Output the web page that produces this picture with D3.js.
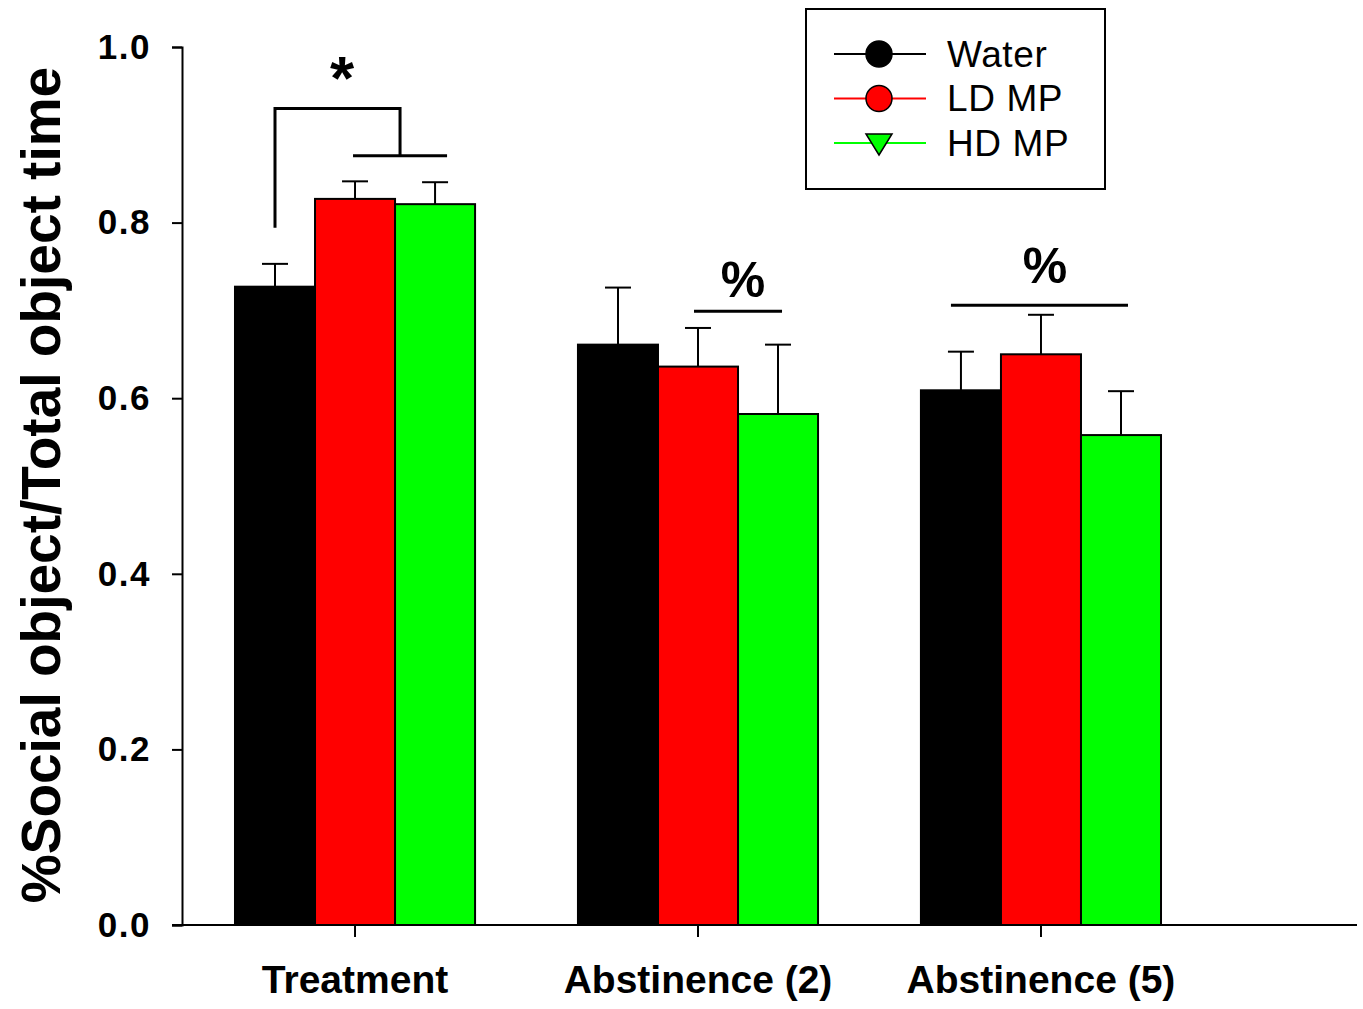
<!DOCTYPE html>
<html>
<head>
<meta charset="utf-8">
<script src="https://cdn.jsdelivr.net/npm/d3@7"></script>
<style>
  html, body { margin: 0; padding: 0; background: #fff; }
  svg { display: block; font-family: "Liberation Sans", Arial, sans-serif; }
</style>
</head>
<body>
<svg id="chart" width="1363" height="1009"></svg>
<script>
// Phases of the experiment (x groups)
const categories = ["Treatment", "Abstinence (2)", "Abstinence (5)"];
// Drinking-water groups
const seriesNames = ["Water", "LD MP", "HD MP"];
const seriesColors = ["#000000", "#ff0000", "#00ff00"];
// Mean ratio per phase for each group
const waterMeans = [0.727, 0.661, 0.609];
const ldMeans    = [0.827, 0.636, 0.650];
const hdMeans    = [0.821, 0.582, 0.558];
// Upper error (SEM) per phase for each group
const waterErr = [0.026, 0.065, 0.044];
const ldErr    = [0.020, 0.044, 0.045];
const hdErr    = [0.025, 0.079, 0.050];
// Y tick values
const yTicks = [0.0, 0.2, 0.4, 0.6, 0.8, 1.0];

const means = [waterMeans, ldMeans, hdMeans];
const errs  = [waterErr, ldErr, hdErr];

const svg = d3.select("#chart");

const y = d3.scaleLinear().domain([0, 1]).range([925, 47]);
const x = d3.scaleBand().domain(categories).range([182, 1214])
  .paddingInner(0.3).paddingOuter(0.1545);
const xs = d3.scaleBand().domain(seriesNames).range([0, x.bandwidth()]);

const rows = [];
categories.forEach((c, ci) => {
  seriesNames.forEach((s, si) => {
    rows.push({ cat: c, series: s, si, value: means[si][ci], err: errs[si][ci] });
  });
});
const cx = d => x(d.cat) + xs(d.series) + xs.bandwidth() / 2;

// Error bars (upper only), drawn behind bars
const eb = svg.append("g").attr("stroke", "#000").attr("stroke-width", 2);
eb.selectAll("line.v").data(rows).join("line")
  .attr("x1", cx).attr("x2", cx)
  .attr("y1", d => y(d.value)).attr("y2", d => y(d.value + d.err));
eb.selectAll("line.cap").data(rows).join("line")
  .attr("x1", d => cx(d) - 13).attr("x2", d => cx(d) + 13)
  .attr("y1", d => y(d.value + d.err)).attr("y2", d => y(d.value + d.err));

// Bars
svg.append("g").selectAll("rect").data(rows).join("rect")
  .attr("x", d => x(d.cat) + xs(d.series))
  .attr("width", xs.bandwidth())
  .attr("y", d => y(d.value))
  .attr("height", d => y(0) - y(d.value))
  .attr("fill", d => seriesColors[d.si])
  .attr("stroke", "#000").attr("stroke-width", 2);

// Y axis
const yAxis = svg.append("g").attr("transform", "translate(182,0)")
  .call(d3.axisLeft(y).tickValues(yTicks).tickFormat(d3.format(".1f")).tickSizeOuter(0).tickSize(10).tickPadding(21));
yAxis.select(".domain").attr("stroke-width", 2);
yAxis.selectAll(".tick line").attr("stroke-width", 2);
yAxis.selectAll(".tick text").attr("font-size", 35).attr("font-weight", "bold")
  .attr("letter-spacing", 1.5).attr("fill", "#000")
  .attr("font-family", "'Liberation Sans', Arial, sans-serif");

// X axis
const xAxis = svg.append("g").attr("transform", "translate(0,925)")
  .call(d3.axisBottom(x).tickSize(12).tickSizeOuter(0).tickPadding(28));
xAxis.select(".domain").attr("d", "M172,0H1357").attr("stroke-width", 2);
xAxis.selectAll(".tick line").attr("stroke-width", 2);
xAxis.selectAll(".tick text").attr("font-size", 39).attr("font-weight", "bold")
  .attr("fill", "#000").attr("font-family", "'Liberation Sans', Arial, sans-serif");

// Y axis title
svg.append("text")
  .attr("transform", "translate(60,485) rotate(-90)")
  .attr("text-anchor", "middle")
  .attr("font-size", 55).attr("font-weight", "bold")
  .text("%Social object/Total object time");

// Significance annotations
const bc = (ci, si) => x(categories[ci]) + xs(seriesNames[si]) + xs.bandwidth() / 2;
const ann = svg.append("g").attr("stroke", "#000").attr("stroke-width", 3).attr("fill", "none");
// Treatment: Water vs. both MP groups
const lowY = 0.876, highY = 0.930, startY = 0.794;
const lowX1 = bc(0, 1) - 2, lowX2 = bc(0, 2) + 12, midX = (lowX1 + lowX2) / 2;
ann.append("line").attr("x1", lowX1).attr("x2", lowX2).attr("y1", y(lowY)).attr("y2", y(lowY));
ann.append("path").attr("d",
  `M${bc(0, 0)},${y(startY)}V${y(highY)}H${midX}V${y(lowY)}`);
// Abstinence (2): LD vs HD
const a2Y = 0.699;
ann.append("line").attr("x1", bc(1, 1) - 4).attr("x2", bc(1, 2) + 4).attr("y1", y(a2Y)).attr("y2", y(a2Y));
// Abstinence (5): across groups
const a5Y = 0.706;
ann.append("line").attr("x1", bc(2, 0) - 10).attr("x2", bc(2, 2) + 7).attr("y1", y(a5Y)).attr("y2", y(a5Y));

const marks = svg.append("g").attr("font-weight", "bold").attr("text-anchor", "middle");
marks.append("text").attr("x", bc(0, 0) + 67).attr("y", y(0.941)).attr("font-size", 62).text("*");
marks.append("text").attr("x", (bc(1, 1) + bc(1, 2)) / 2 + 5).attr("y", y(0.715)).attr("font-size", 50).text("%");
marks.append("text").attr("x", (bc(2, 0) + bc(2, 2)) / 2 + 4).attr("y", y(0.731)).attr("font-size", 50).text("%");

// Legend
const lg = svg.append("g");
lg.append("rect").attr("x", 806).attr("y", 9).attr("width", 299).attr("height", 180)
  .attr("fill", "#fff").attr("stroke", "#000").attr("stroke-width", 2);
const legendY = d3.scalePoint().domain(seriesNames).range([54, 143]);
const item = lg.selectAll("g.item").data(seriesNames).join("g")
  .attr("transform", d => `translate(0,${legendY(d)})`);
item.append("line").attr("x1", 834).attr("x2", 926).attr("y1", 0).attr("y2", 0)
  .attr("stroke", (d, i) => seriesColors[i]).attr("stroke-width", 2);
item.filter((d, i) => i < 2).append("circle").attr("cx", 879).attr("cy", 0).attr("r", 13)
  .attr("fill", (d) => seriesColors[seriesNames.indexOf(d)]).attr("stroke", "#000").attr("stroke-width", 1.5);
item.filter((d, i) => i === 2).append("path")
  .attr("d", "M866,-9L892,-9L879,12Z")
  .attr("fill", seriesColors[2]).attr("stroke", "#000").attr("stroke-width", 1.5);
item.append("text").attr("x", 947).attr("y", 0).attr("dy", "0.35em")
  .attr("font-size", 37).attr("letter-spacing", 0.6).text(d => d);
</script>
</body>
</html>
